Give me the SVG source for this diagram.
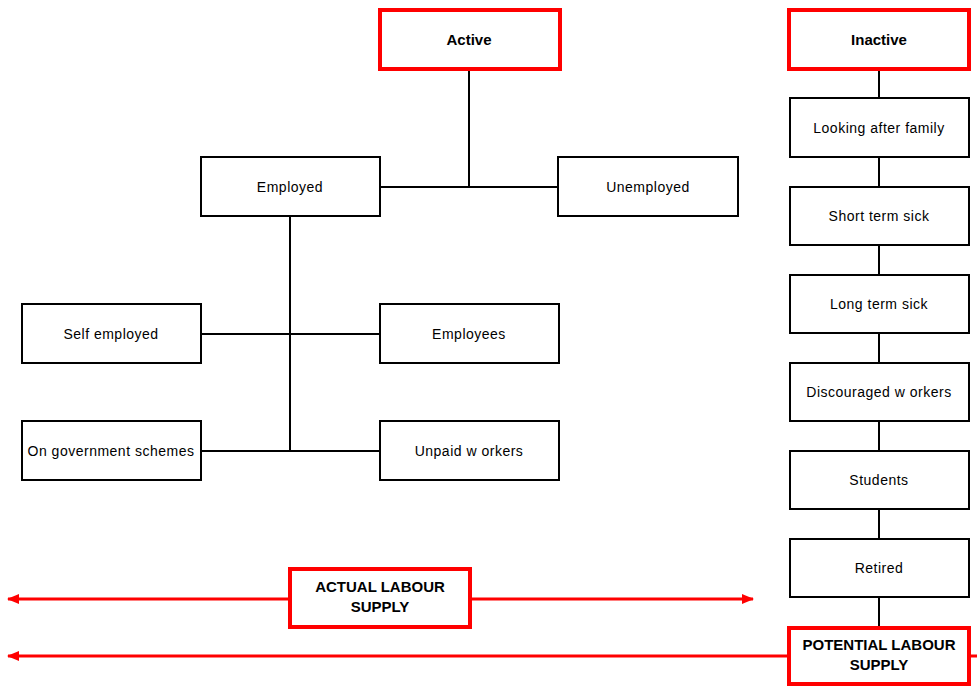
<svg xmlns="http://www.w3.org/2000/svg" width="977" height="687" viewBox="0 0 977 687">
<style>
.box{fill:#fff;stroke:#000;stroke-width:2}
.rbox{fill:#fff;stroke:#ff0000;stroke-width:4}
.t{font-family:"Liberation Sans",Arial,sans-serif;font-size:14px;letter-spacing:0.5px;fill:#000;text-anchor:middle;dominant-baseline:central}
.b{font-family:"Liberation Sans",Arial,sans-serif;font-size:15px;font-weight:bold;fill:#000;text-anchor:middle;dominant-baseline:central}
.c{stroke:#000;stroke-width:2;fill:none}
.r{stroke:#ff0000;stroke-width:3;fill:none}
</style>
<defs>
<marker id="ah" viewBox="0 0 12 10" refX="11" refY="5" markerWidth="12" markerHeight="10" markerUnits="userSpaceOnUse" orient="auto-start-reverse">
<path d="M0,0 L12,5 L0,10 Z" fill="#ff0000"/>
</marker>
</defs>
<rect width="977" height="687" fill="#fff"/>
<g id="connectors">
<line class="c" x1="469" y1="70" x2="469" y2="187"/>
<line class="c" x1="380" y1="187" x2="558" y2="187"/>
<line class="c" x1="290" y1="216" x2="290" y2="451"/>
<line class="c" x1="201" y1="334" x2="380" y2="334"/>
<line class="c" x1="201" y1="451" x2="380" y2="451"/>
<line class="c" x1="879" y1="70" x2="879" y2="628"/>
<line class="r" x1="290" y1="599" x2="8" y2="599" marker-end="url(#ah)"/>
<line class="r" x1="470" y1="599" x2="753" y2="599" marker-end="url(#ah)"/>
<line class="r" x1="789" y1="656" x2="8" y2="656" marker-end="url(#ah)"/>
<line class="r" x1="969" y1="656" x2="977" y2="656"/>
</g>
<g id="active"><rect class="rbox" x="380" y="10" width="180" height="59"/><text class="b" x="469" y="39.5">Active</text></g>
<g id="inactive"><rect class="rbox" x="789" y="10" width="180" height="59"/><text class="b" x="879" y="39.5">Inactive</text></g>
<g id="employed"><rect class="box" x="201" y="157" width="179" height="59"/><text class="t" x="290" y="187">Employed</text></g>
<g id="unemployed"><rect class="box" x="558" y="157" width="180" height="59"/><text class="t" x="648" y="187">Unemployed</text></g>
<g id="self-employed"><rect class="box" x="22" y="304" width="179" height="59"/><text class="t" x="111" y="334">Self employed</text></g>
<g id="employees"><rect class="box" x="380" y="304" width="179" height="59"/><text class="t" x="469" y="334">Employees</text></g>
<g id="gov-schemes"><rect class="box" x="22" y="421" width="179" height="59"/><text class="t" x="111" y="451">On government schemes</text></g>
<g id="unpaid"><rect class="box" x="380" y="421" width="179" height="59"/><text class="t" x="469" y="451">Unpaid w orkers</text></g>
<g id="family"><rect class="box" x="790" y="98" width="179" height="59"/><text class="t" x="879" y="128">Looking after family</text></g>
<g id="short-sick"><rect class="box" x="790" y="187" width="179" height="58"/><text class="t" x="879" y="216">Short term sick</text></g>
<g id="long-sick"><rect class="box" x="790" y="275" width="179" height="58"/><text class="t" x="879" y="304">Long term sick</text></g>
<g id="discouraged"><rect class="box" x="790" y="363" width="179" height="58"/><text class="t" x="879" y="392">Discouraged w orkers</text></g>
<g id="students"><rect class="box" x="790" y="451" width="179" height="58"/><text class="t" x="879" y="480">Students</text></g>
<g id="retired"><rect class="box" x="790" y="539" width="179" height="58"/><text class="t" x="879" y="568">Retired</text></g>
<g id="actual"><rect class="rbox" x="290" y="569" width="180" height="58"/><text class="b" x="380" y="586">ACTUAL LABOUR</text><text class="b" x="380" y="606.5">SUPPLY</text></g>
<g id="potential"><rect class="rbox" x="789" y="628" width="180" height="56"/><text class="b" x="879" y="644">POTENTIAL LABOUR</text><text class="b" x="879" y="664.5">SUPPLY</text></g>
</svg>
